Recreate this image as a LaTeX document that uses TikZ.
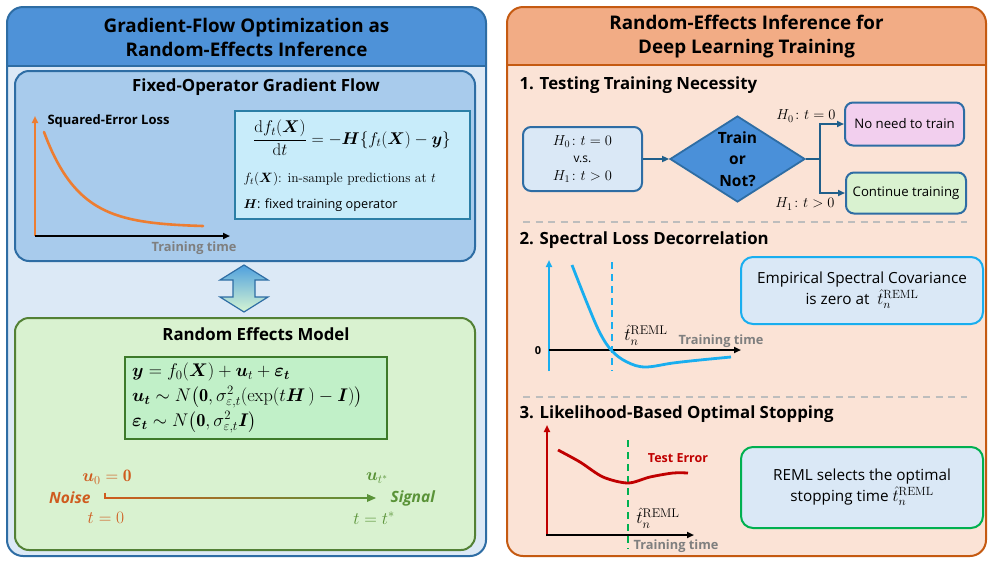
\RequirePackage{fix-cm}
\documentclass[tikz,border=0pt]{standalone}
\usepackage{amsmath,bm}
\usepackage{fontspec}
\setsansfont{Open Sans}
\renewcommand{\familydefault}{\sfdefault}
\usetikzlibrary{arrows.meta,shapes.geometric}

% palette
\definecolor{lhead}{HTML}{4E92D8}
\definecolor{lbody}{HTML}{DCE9F6}
\definecolor{lborder}{HTML}{2E6DA4}
\definecolor{fixfill}{HTML}{A8CBEC}
\definecolor{eqfill}{HTML}{C8ECFA}
\definecolor{eqborder}{HTML}{2B7FA6}
\definecolor{remfill}{HTML}{D9F2D0}
\definecolor{remborder}{HTML}{538135}
\definecolor{modfill}{HTML}{C1F0C8}
\definecolor{modborder}{HTML}{3D7A2A}
\definecolor{rhead}{HTML}{F2AC85}
\definecolor{rbody}{HTML}{FBE3D6}
\definecolor{rborder}{HTML}{C55A11}
\definecolor{hypfill}{HTML}{DAE8F6}
\definecolor{decfill}{HTML}{4A90D9}
\definecolor{pinkfill}{HTML}{F2CFEE}
\definecolor{connc}{HTML}{1F5F8B}
\definecolor{dashc}{HTML}{BDBDBD}
\definecolor{cyanc}{HTML}{19AEEF}
\definecolor{redc}{HTML}{C00000}
\definecolor{greenc}{HTML}{00B050}
\definecolor{grayt}{HTML}{7F7F7F}
\definecolor{lossc}{HTML}{ED7D31}
\definecolor{noisec}{HTML}{CF5B1E}
\definecolor{signalc}{HTML}{5A9338}
\definecolor{arrtop}{HTML}{4FA0DE}
\definecolor{arrbot}{HTML}{D6F5D2}

% the REML stopping time estimate
\newcommand{\tremlhat}{\hat{t}_n^{\mathrm{REML}}}

\tikzset{
  paneltitle/.style={align=center,font=\fontsize{18.8}{24}\selectfont\bfseries},
  boxtitle/.style={font=\fontsize{16.8}{19}\selectfont\bfseries},
  sectitle/.style={anchor=west,font=\fontsize{16.8}{19}\selectfont\bfseries},
  roundbox/.style={rounded corners=14pt,line width=2pt,inner sep=0pt},
  flowbox/.style={rounded corners=8pt,line width=2pt,draw=lborder,inner sep=0pt,
    font=\fontsize{13.2}{15}\selectfont},
  infobox/.style={rounded corners=12pt,line width=2pt,fill=hypfill,inner sep=0pt,
    align=center,font=\fontsize{15.3}{21}\selectfont},
  conn/.style={draw=connc,line width=1.8pt},
  tip/.style={-{Triangle[length=7pt,width=6pt]}},
  axis/.style={line width=2pt,-{Triangle[length=7pt,width=6pt]}},
  axislabel/.style={text=grayt,font=\fontsize{12.8}{14}\selectfont\bfseries},
  sepline/.style={draw=dashc,line width=2pt,dash pattern=on 7pt off 5.5pt},
  mathlbl/.style={font=\fontsize{18}{20}\selectfont},
  pathlbl/.style={font=\fontsize{17.5}{20}\selectfont},
  pathword/.style={font=\fontsize{15.5}{18}\selectfont\bfseries\itshape},
}

\begin{document}
\begin{tikzpicture}[x=1pt,y=-1pt]
\useasboundingbox (0,0) rectangle (993,563);
\fill[white] (0,0) rectangle (993,563);

% ---------------- left panel ----------------
\begin{scope}
  \clip[rounded corners=16pt] (7,7) rectangle (486,556);
  \fill[lbody] (7,7) rectangle (486,556);
  \fill[lhead] (7,7) rectangle (486,66);
\end{scope}
\draw[lborder,line width=2pt] (7,66) -- (486,66);
\draw[lborder,line width=2pt,rounded corners=16pt] (7,7) rectangle (486,556);
\node[paneltitle] (ltitle) at (246.5,37) {Gradient-Flow Optimization as\\Random-Effects Inference};

% fixed-operator gradient flow
\node[roundbox,draw=lborder,fill=fixfill,minimum width=460pt,minimum height=190pt] (fixed) at (245,166) {};
\node[boxtitle] (fixedtitle) at (256,87) {Fixed-Operator Gradient Flow};

% loss curve
\coordinate (lo) at (35,236);
\draw[lossc,axis] (lo) -- (35,116);
\draw[black,axis] (lo) -- (230,236);
\draw[lossc,line width=2.6pt,line cap=round] plot[domain=44:203,samples=60] (\x,{227-95*exp(-(\x-44)/35)});
\node[anchor=west,font=\fontsize{13}{15}\selectfont\bfseries] (losslbl) at (44,121) {Squared-Error Loss};
\node[axislabel] (time1) at (194,248) {Training time};

% gradient-flow equation
\node[roundbox,rounded corners=0pt,draw=eqborder,fill=eqfill,minimum width=235pt,minimum height=108pt] (flow) at (352.5,165) {};
\node[font=\fontsize{17}{20}\selectfont] (floweq) at (352,138)
  {$\dfrac{\mathrm{d}f_t(\bm{X})}{\mathrm{d}t} = -\bm{H}\{f_t(\bm{X}) - \bm{y}\}$};
\node[anchor=west,font=\rmfamily\fontsize{13.5}{15}\selectfont] (fdef) at (240,179)
  {$f_t(\bm{X})$: in-sample predictions at $t$};
\node[anchor=west,font=\fontsize{12.7}{15}\selectfont] (hdef) at (240,205)
  {$\bm{H}$: fixed training operator};

% two-way block arrow
\draw[lborder,line width=1.2pt,top color=arrtop,bottom color=arrbot]
  (244,265) -- (268,280) -- (255,280) -- (255,297) -- (268,297) -- (244,312)
  -- (220,297) -- (233,297) -- (233,280) -- (220,280) -- cycle;

% random effects model
\node[roundbox,draw=remborder,fill=remfill,minimum width=460pt,minimum height=232pt] (rem) at (245,434) {};
\node[boxtitle] (remtitle) at (256,334) {Random Effects Model};
\node[draw=modborder,fill=modfill,line width=2pt,minimum width=262pt,minimum height=82pt,inner sep=0pt] (model) at (256,398) {};
\node[anchor=west,align=left,font=\fontsize{18.3}{25}\selectfont,inner sep=0pt] (modeleq) at (132,398)
  {$\bm{y} = f_0(\bm{X}) + \bm{u}_t + \bm{\varepsilon_t}$\\
   $\bm{u_t} \sim N\big(\mathbf{0}, \sigma^2_{\varepsilon,t}(\exp(t\bm{H}\,) - \bm{I})\big)$\\
   $\bm{\varepsilon_t} \sim N\big(\mathbf{0}, \sigma^2_{\varepsilon,t}\bm{I}\big)$};

% noise to signal path
\coordinate (n0) at (105,498);
\coordinate (n1) at (376,498);
\shade[left color=noisec,right color=signalc] (105,497.1) rectangle (369,498.9);
\fill[signalc] (n1) -- (367,494) -- (367,502) -- cycle;
\draw[noisec,line width=1.8pt] (105,492.5) -- (105,499);
\node[text=noisec,pathlbl] (u0) at (107,477) {$\bm{u}_0 = \mathbf{0}$};
\node[text=noisec,anchor=east,pathword] (noise) at (94,498) {Noise};
\node[text=noisec,pathlbl] (t0) at (106,518) {$t = 0$};
\node[text=signalc,pathlbl] (ustar) at (377,478) {$\bm{u}_{t^*}$};
\node[text=signalc,anchor=west,pathword] (signal) at (387,498) {Signal};
\node[text=signalc,pathlbl] (tstar) at (374,518) {$t = t^*$};

% ---------------- right panel ----------------
\begin{scope}
  \clip[rounded corners=16pt] (507,7) rectangle (986,556);
  \fill[rbody] (507,7) rectangle (986,556);
  \fill[rhead] (507,7) rectangle (986,65);
\end{scope}
\draw[rborder,line width=2pt] (507,65) -- (986,65);
\draw[rborder,line width=2pt,rounded corners=16pt] (507,7) rectangle (986,556);
\node[paneltitle] (rtitle) at (746.5,37) {Random-Effects Inference for\\Deep Learning Training};

% 1. testing training necessity
\node[sectitle] (sec1) at (516,85) {1. Testing Training Necessity};
\node[flowbox,fill=hypfill,minimum width=119pt,minimum height=64pt,align=center,
  font=\fontsize{14.5}{17.5}\selectfont] (hyp) at (582.5,159)
  {$H_0\colon t = 0$\\{\fontsize{12}{14}\selectfont v.s.}\\$H_1\colon t > 0$};
\node[diamond,draw=lborder,fill=decfill,line width=1.8pt,minimum width=135pt,minimum height=86pt,inner sep=0pt] (dec) at (737.5,159) {};
\node[align=center,font=\fontsize{15.5}{21.5}\selectfont\bfseries] (declbl) at (dec.center) {Train\\or\\Not?};
\node[flowbox,fill=pinkfill,minimum width=119pt,minimum height=43pt] (noneed) at (904.5,124) {No need to train};
\node[flowbox,fill=remfill,minimum width=120pt,minimum height=41pt] (cont) at (906,193) {Continue training};
\coordinate (br) at (820,159);
\draw[conn,tip] (hyp.east) -- (dec.west);
\draw[conn] (dec.east) -- (br);
\draw[conn,tip] (br) |- (noneed.west);
\draw[conn,tip] (br) |- (cont.west);
\node[anchor=east,font=\fontsize{14.5}{16}\selectfont] (h0lbl) at (839,116) {$H_0\colon t = 0$};
\node[anchor=east,font=\fontsize{14.5}{16}\selectfont] (h1lbl) at (838,204) {$H_1\colon t > 0$};

\draw[sepline] (523,222) -- (967,222);

% 2. spectral loss decorrelation
\node[sectitle] (sec2) at (516,240) {2. Spectral Loss Decorrelation};
\draw[cyanc,axis] (549,371) -- (549,260);
\draw[black,axis] (549,350) -- (741,350);
\draw[cyanc,line width=2pt,dash pattern=on 7pt off 5pt] (612,262) -- (612,371);
\draw[cyanc,line width=2.8pt] plot[smooth,tension=0.6] coordinates
  {(572,265) (587,303) (600,333) (612,351) (627,362) (645,367) (673,363) (700,360) (731,357)};
\node[font=\fontsize{11}{13}\selectfont\bfseries] (zero) at (538,351) {0};
\node[mathlbl] (tn2) at (646,335) {$\tremlhat$};
\node[axislabel] (time2) at (721,341) {Training time};
\node[infobox,draw=cyanc,minimum width=242pt,minimum height=67pt] (esc) at (862,290.5)
  {Empirical Spectral Covariance\\is zero at~ {\fontsize{17}{21}\selectfont$\tremlhat$}};

\draw[sepline] (523,397) -- (967,397);

% 3. likelihood-based optimal stopping
\node[sectitle] (sec3) at (516,414) {3. Likelihood-Based Optimal Stopping};
\draw[redc,axis] (547,536) -- (547,425);
\draw[black,axis] (546,535) -- (694,535);
\draw[greenc,line width=2pt,dash pattern=on 7pt off 5pt] (628,440) -- (628,549);
\draw[redc,line width=2.8pt] plot[smooth,tension=0.5] coordinates
  {(558,450) (580,462) (603,477) (628,483) (650,477) (673,473) (688,473)};
\node[text=redc,font=\fontsize{12.5}{14}\selectfont\bfseries] (testerr) at (678,458) {Test Error};
\node[mathlbl] (tn3) at (658,518) {$\tremlhat$};
\node[axislabel] (time3) at (676,546) {Training time};
\node[infobox,draw=greenc,minimum width=242pt,minimum height=81pt] (reml) at (862,487.5)
  {REML selects the optimal\\stopping time {\fontsize{17}{21}\selectfont$\tremlhat$}};

\end{tikzpicture}
\end{document}
